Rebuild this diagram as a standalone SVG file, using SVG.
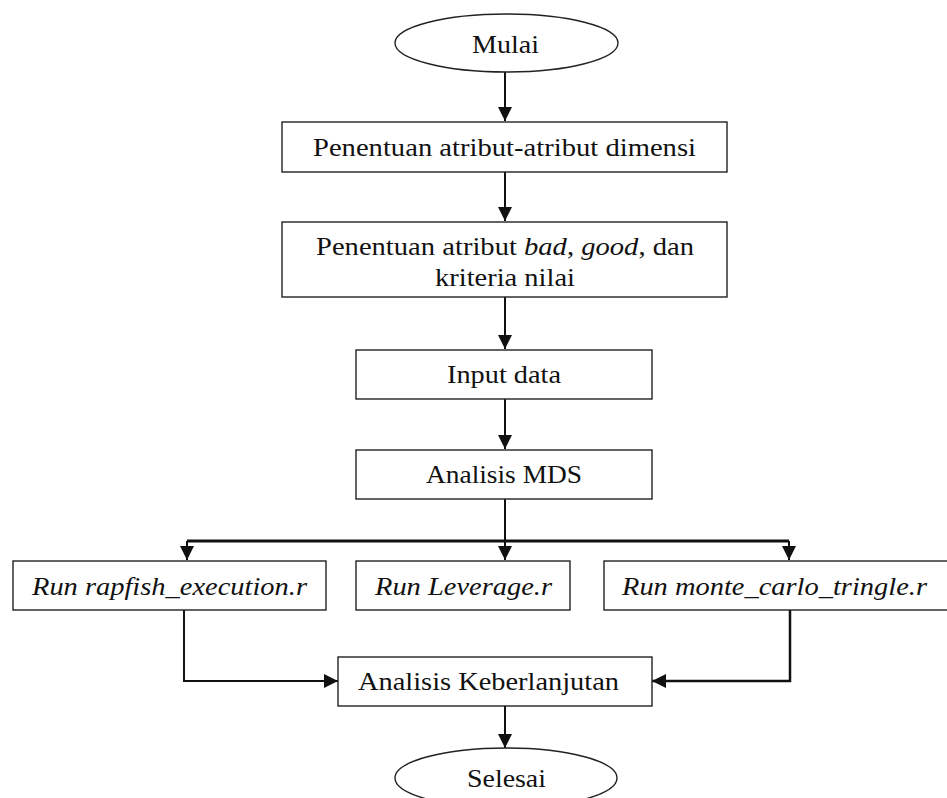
<svg xmlns="http://www.w3.org/2000/svg" width="947" height="798" viewBox="0 0 947 798">
<style>
.box{fill:#fff;stroke:#222;stroke-width:1.4}
.t{font-family:"Liberation Serif","Times New Roman",Times,serif;font-size:25.5px;fill:#111}
.i{font-style:italic}
.c{fill:none;stroke:#111;stroke-width:2}
.bar{fill:none;stroke:#111;stroke-width:3;stroke-linejoin:round}
</style>
<defs>
<marker id="ah" markerUnits="userSpaceOnUse" markerWidth="14" markerHeight="14" viewBox="0 0 12 12" refX="12" refY="6" orient="auto">
<path d="M0,0 L12,6 L0,12 Z" fill="#111"/>
</marker>
</defs>
<rect width="947" height="798" fill="#fff"/>
<g id="connectors">
<path class="c" d="M505,72 V121" marker-end="url(#ah)"/>
<path class="c" d="M505,172 V221" marker-end="url(#ah)"/>
<path class="c" d="M505,297 V349" marker-end="url(#ah)"/>
<path class="c" d="M505,399 V449" marker-end="url(#ah)"/>
<path class="c" d="M505,499 V541"/>
<path class="bar" d="M187,541 H789"/>
<path class="c" d="M187,541 V560" marker-end="url(#ah)"/>
<path class="c" d="M505,541 V560" marker-end="url(#ah)"/>
<path class="c" d="M789,541 V560" marker-end="url(#ah)"/>
<path class="c" d="M184,610 V681 H338" marker-end="url(#ah)"/>
<path class="c" style="stroke-width:2.5" d="M790,610 V681 H652" marker-end="url(#ah)"/>
<path class="c" d="M505,706 V748" marker-end="url(#ah)"/>
</g>
<g id="mulai">
<ellipse class="box" cx="506.5" cy="43" rx="111.5" ry="29"/>
<text class="t" x="505.5" y="53" text-anchor="middle" textLength="67" lengthAdjust="spacingAndGlyphs">Mulai</text>
</g>
<g id="penentuan-atribut">
<rect class="box" x="282" y="122" width="445" height="50"/>
<text class="t" x="313" y="155.5" textLength="383" lengthAdjust="spacingAndGlyphs">Penentuan atribut-atribut dimensi</text>
</g>
<g id="penentuan-bad-good">
<rect class="box" x="282" y="222" width="445" height="75"/>
<text class="t" x="316" y="255" textLength="378" lengthAdjust="spacingAndGlyphs">Penentuan atribut <tspan class="i">bad</tspan>, <tspan class="i">good</tspan>, dan</text>
<text class="t" x="435" y="286" textLength="140" lengthAdjust="spacingAndGlyphs">kriteria nilai</text>
</g>
<g id="input-data">
<rect class="box" x="356" y="350" width="296" height="49"/>
<text class="t" x="447" y="383" textLength="114" lengthAdjust="spacingAndGlyphs">Input data</text>
</g>
<g id="analisis-mds">
<rect class="box" x="356" y="450" width="296" height="49"/>
<text class="t" x="426" y="483" textLength="156" lengthAdjust="spacingAndGlyphs">Analisis MDS</text>
</g>
<g id="run-rapfish">
<rect class="box" x="13" y="561" width="313" height="49"/>
<text class="t i" x="32" y="595" textLength="275" lengthAdjust="spacingAndGlyphs">Run rapfish_execution.r</text>
</g>
<g id="run-leverage">
<rect class="box" x="356" y="561" width="214" height="49"/>
<text class="t i" x="375" y="595" textLength="177" lengthAdjust="spacingAndGlyphs">Run Leverage.r</text>
</g>
<g id="run-monte-carlo">
<rect class="box" x="604" y="561" width="360" height="49"/>
<text class="t i" x="622" y="595" textLength="305" lengthAdjust="spacingAndGlyphs">Run monte_carlo_tringle.r</text>
</g>
<g id="analisis-keberlanjutan">
<rect class="box" x="338" y="657" width="314" height="49"/>
<text class="t" x="358" y="690" textLength="261" lengthAdjust="spacingAndGlyphs">Analisis Keberlanjutan</text>
</g>
<g id="selesai">
<ellipse class="box" cx="506" cy="778" rx="111" ry="30"/>
<text class="t" x="467" y="787" textLength="79" lengthAdjust="spacingAndGlyphs">Selesai</text>
</g>
</svg>
